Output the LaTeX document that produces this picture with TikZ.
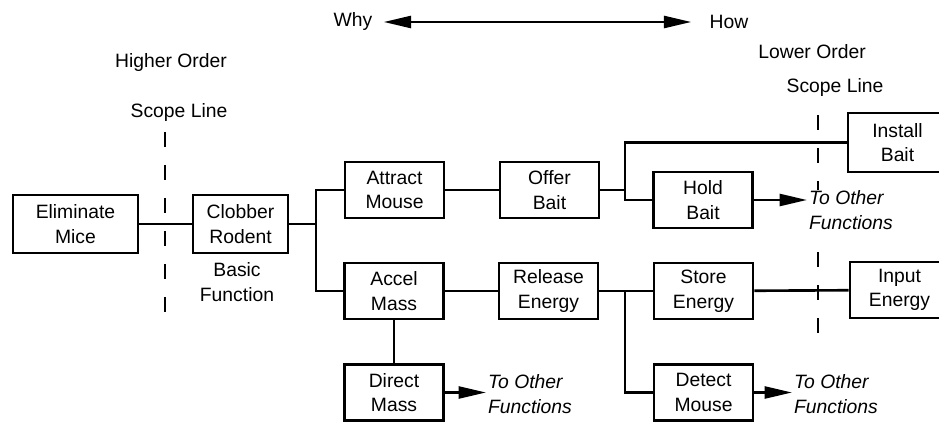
\documentclass[tikz,border=0pt]{standalone}
\usepackage{fontspec}
\setmainfont{Liberation Sans}
\usetikzlibrary{arrows.meta}
\begin{document}
\begin{tikzpicture}[x=0.02cm,y=-0.02cm,
    font=\fontsize{11}{14}\selectfont,
    func/.style={draw,line width=1.6pt,align=center,minimum width=1.98cm,minimum height=1.12cm,inner sep=1pt},
    lbl/.style={align=center,inner sep=0pt},
    other/.style={align=left,inner sep=1pt,font=\fontsize{11}{14}\selectfont\itshape},
    scopeline/.style={line width=1.6pt,dash pattern=on 0.3cm off 0.36cm},
    >={Triangle[length=0.55cm,width=0.24cm]}]
      \useasboundingbox (0,0) rectangle (939,422);
      \node[func,minimum width=2.5cm,minimum height=1.16cm] (elim) at (75.5,224) {Eliminate\\Mice};
      \node[func,minimum width=1.9cm,minimum height=1.16cm] (clobber) at (240.5,224) {Clobber\\Rodent};
      \node[func] (attract) at (394.5,190) {Attract\\Mouse};
      \node[func] (accel) at (394,291) {Accel\\Mass};
      \node[func] (direct) at (394,392.5) {Direct\\Mass};
      \node[func] (offer) at (549.5,190) {Offer\\Bait};
      \node[func] (release) at (548.5,291) {Release\\Energy};
      \node[func] (hold) at (703,200) {Hold\\Bait};
      \node[func] (store) at (703.5,291) {Store\\Energy};
      \node[func] (detect) at (703.5,392.5) {Detect\\Mouse};
      \node[func,minimum height=1.18cm] (install) at (897.5,142.5) {Install\\Bait};
      \node[func] (input) at (899.5,290) {Input\\Energy};
      \node[lbl] (basic) at (237,282) {Basic\\Function};
      \node[lbl] (higher) at (171,63) {Higher Order};
      \node[lbl] (lower) at (812,52) {Lower Order};
      \node[lbl] (scopeleft) at (179,113) {Scope Line};
      \node[lbl] (scoperight) at (835,88) {Scope Line};
      \node[lbl] (why) at (353,22) {Why};
      \node[lbl] (how) at (729,22) {How};
      \node[other,anchor=west] (holdto) at (807,210) {To Other\\Functions};
      \node[other,anchor=west] (directto) at (486,394) {To Other\\Functions};
      \node[other,anchor=west] (detectto) at (792,394) {To Other\\Functions};
      \coordinate (j1) at (316,224);
      \coordinate (j2) at (625,190);
      \coordinate (j3) at (625,291);
      \coordinate (sl1) at (165,132);
      \coordinate (sl2) at (165,312);
      \coordinate (sr1) at (818,115);
      \coordinate (sr2) at (818,190);
      \coordinate (sr3) at (818,252);
      \coordinate (sr4) at (818,338);
      \begin{scope}[line width=1.5pt]
        \draw (elim) to (clobber);
        \draw (clobber) to (j1);
        \draw (j1) |- (attract);
        \draw (j1) |- (accel);
        \draw (attract) to (offer);
        \draw (accel) to (release);
        \draw (accel) to (direct);
        \draw (offer) to (j2);
        \draw (j2) |- (install);
        \draw (j2) |- (hold);
        \draw (release) to (store);
        \draw (j3) |- (detect);
        \draw (store) to (input);
        \draw[->] (hold) to (holdto.west |- hold);
        \draw[->] (direct) to (directto.west |- direct);
        \draw[->] (detect) to (detectto.west |- detect);
        \draw[<->,shorten <=0.22cm,shorten >=0.36cm] (why.east) to (how.west);
      \end{scope}
      \draw[scopeline] (sl1) -- (sl2);
      \draw[scopeline] (sr1) -- (sr2);
      \draw[scopeline] (sr3) -- (sr4);
    \end{tikzpicture}
\end{document}
